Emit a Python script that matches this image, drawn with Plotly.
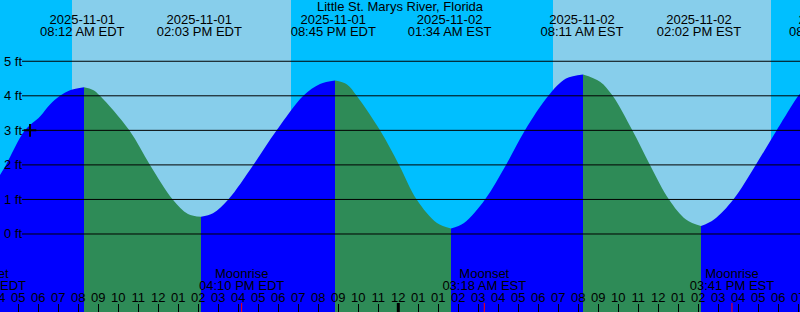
import plotly.graph_objects as go

# Time unit: real elapsed hours since 2025-11-01 00:00 EDT
view_t = [4.085, 44.085]
view_ft = [-2.258, 6.773]

# Tide curve (turning points where the fill colour switches)
curve_t = [4.085, 4.385, 5.335, 6.085, 6.585, 7.085, 7.585, 8.285, 8.735, 9.085, 10.55, 11.585, 12.72, 13.485, 14.135,
           14.735, 15.5, 16.75, 17.92, 19.25, 20.085, 20.835, 21.435, 21.92, 23.085, 24.035, 24.92,
           25.935, 26.635, 27.285, 28.335, 29.385, 30.335, 31.5, 32.385, 33.235, 34.085, 34.72, 35.7,
           36.585, 37.535, 38.385, 39.135, 39.785, 40.75, 41.87, 42.92, 44.0, 44.085]
curve_ft = [1.71, 2.0, 3.0, 3.40, 3.75, 4.0, 4.16, 4.25, 4.17, 4.0, 3.0, 2.0, 1.0, 0.58, 0.50,
            0.6, 1.0, 2.0, 3.0, 4.0, 4.34, 4.44, 4.33, 4.0, 3.0, 2.0, 1.0,
            0.32, 0.16, 0.32, 1.0, 2.0, 3.0, 4.0, 4.5, 4.62, 4.41, 4.0, 3.0,
            2.0, 1.0, 0.42, 0.23, 0.42, 1.0, 2.0, 3.0, 4.0, 4.05]
turn_t = [8.285, 14.135, 20.835, 26.635, 33.235, 39.135]

# High / low tide event labels
ext_t = [8.2, 14.05, 20.75, 26.567, 33.183, 39.033, 45.65]
ext_date = ["2025-11-01", "2025-11-01", "2025-11-01", "2025-11-02", "2025-11-02", "2025-11-02", "2025-11-02"]
ext_time = ["08:12 AM EDT", "02:03 PM EDT", "08:45 PM EDT", "01:34 AM EST", "08:11 AM EST",
            "02:02 PM EST", "08:39 PM EST"]

# Sun
sunrise_t = [7.685, 31.735]
sunset_t = [18.635, 42.635]

# Moon
moon_t = [3.27, 16.167, 28.3, 40.683]
moon_kind = ["Moonset", "Moonrise", "Moonset", "Moonrise"]
moon_time = ["03:16 AM EDT", "04:10 PM EDT", "03:18 AM EST", "03:41 PM EST"]

# Hour ticks
hour_t = list(range(4, 45))
hour_labels = ["04", "05", "06", "07", "08", "09", "10", "11", "12", "01", "02", "03", "04", "05",
               "06", "07", "08", "09", "10", "11", "12", "01", "01", "02", "03", "04", "05", "06",
               "07", "08", "09", "10", "11", "12", "01", "02", "03", "04", "05", "06", "07"]
midnight_t = [24]

mark_t = [5.585]
mark_ft = [3.0]

grid_ft = [0, 1, 2, 3, 4, 5]

title = "Little St. Marys River, Florida"

NIGHT = "#00BFFF"
DAY = "#87CEEB"
FLOOD = "#0000FF"
EBB = "#2E8B57"
FONT = "Liberation Sans"
FS = 13

fig = go.Figure()

# tide fill segments
bounds = [view_t[0]] + [e for e in turn_t if view_t[0] < e < view_t[1]] + [view_t[1]]
base = view_ft[0] - 0.5
for a, b in zip(bounds[:-1], bounds[1:]):
    pts = [(t, h) for t, h in zip(curve_t, curve_ft) if a - 1e-6 <= t <= b + 1e-6]
    xs = [p[0] for p in pts]
    ys = [p[1] for p in pts]
    color = FLOOD if ys[-1] > ys[0] else EBB
    fig.add_trace(go.Scatter(x=[a, b], y=[base, base], mode="lines", line=dict(width=0),
                             hoverinfo="skip", showlegend=False))
    fig.add_trace(go.Scatter(x=xs, y=ys, mode="lines", line=dict(width=0, shape="spline", color=color),
                             fill="tonexty", fillcolor=color, hoverinfo="skip", showlegend=False))

# plus mark
fig.add_trace(go.Scatter(x=mark_t, y=mark_ft, mode="markers",
                         marker=dict(symbol="cross-thin", size=9, line=dict(width=2, color="black")),
                         showlegend=False, hoverinfo="skip"))

# pixel overlay axis for labels / special ticks
def text_row(xs, texts, ypix):
    fig.add_trace(go.Scatter(x=xs, y=[ypix] * len(xs), text=texts, mode="text", yaxis="y2",
                             textposition="middle center", cliponaxis=True,
                             textfont=dict(family=FONT, size=FS, color="black"),
                             showlegend=False, hoverinfo="skip"))

dy = 1.3
text_row([sum(view_t) / 2], [title], 6.5 + dy)
text_row(ext_t, ext_date, 19.5 + dy)
text_row(ext_t, ext_time, 31.3 + dy)
text_row(moon_t, moon_kind, 273.8 + dy)
text_row(moon_t, moon_time, 285.2 + dy)
text_row(hour_t, hour_labels, 297.5 + dy)

mx, my = [], []
for t in moon_t:
    mx += [t, t, None]
    my += [303, 312, None]
fig.add_trace(go.Scatter(x=mx, y=my, mode="lines", yaxis="y2", line=dict(color="#FF0000", width=1),
                         showlegend=False, hoverinfo="skip"))
nx, ny = [], []
for t in midnight_t:
    nx += [t, t, None]
    ny += [303, 312, None]
fig.add_trace(go.Scatter(x=nx, y=ny, mode="lines", yaxis="y2", line=dict(color="black", width=3),
                         showlegend=False, hoverinfo="skip"))

shapes = []
for a, b in zip(sunrise_t, sunset_t):
    shapes.append(dict(type="rect", xref="x", yref="paper", x0=a, x1=b, y0=0, y1=1,
                       fillcolor=DAY, line=dict(width=0), layer="below"))
for g in grid_ft:
    shapes.append(dict(type="line", xref="paper", yref="y", x0=22 / 800, x1=1, y0=g, y1=g,
                       line=dict(color="black", width=1), layer="above"))

annotations = []
for g in grid_ft:
    annotations.append(dict(xref="paper", yref="y", x=0.003, y=g, xanchor="left", yanchor="middle",
                            text=f"{g} ft", showarrow=False,
                            font=dict(family=FONT, size=FS, color="black")))

fig.update_layout(
    width=800, height=312,
    margin=dict(l=0, r=0, t=0, b=0, pad=0),
    paper_bgcolor=NIGHT, plot_bgcolor=NIGHT,
    shapes=shapes, annotations=annotations,
    xaxis=dict(range=view_t, showgrid=False, zeroline=False, showline=False,
               ticks="inside", ticklen=8, tickwidth=1, tickcolor="black",
               tickvals=hour_t, showticklabels=False, fixedrange=True),
    yaxis=dict(range=view_ft, showgrid=False, zeroline=False, showline=False,
               showticklabels=False, ticks="", fixedrange=True),
    yaxis2=dict(range=[312, 0], overlaying="y", visible=False, fixedrange=True),
    showlegend=False,
)

fig.write_html("out.html", config={"displayModeBar": False})
